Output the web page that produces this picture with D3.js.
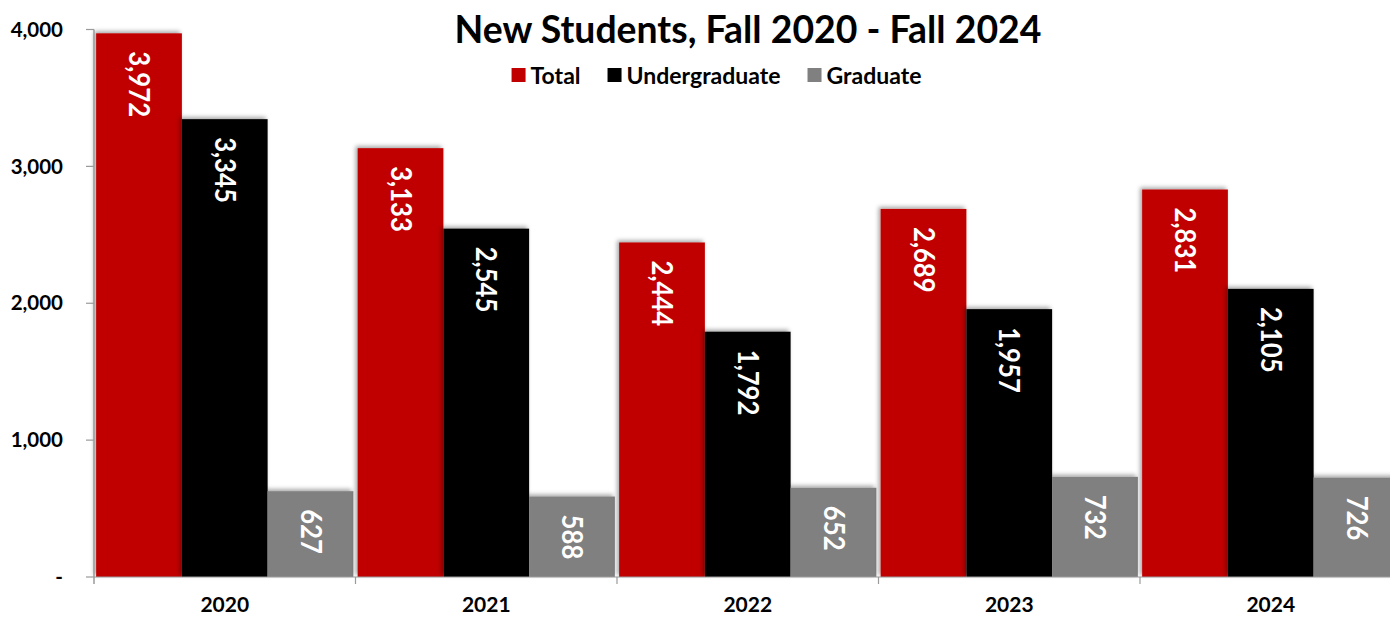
<!DOCTYPE html>
<html>
<head>
<meta charset="utf-8">
<script src="https://cdn.jsdelivr.net/npm/d3@7"></script>
<style>
  html, body { margin: 0; padding: 0; background: #fff; overflow: hidden; }
  svg { display: block; font-family: Lato, "Open Sans", sans-serif; }
</style>
</head>
<body>
<svg id="chart" width="1390" height="618"></svg>
<script>
const title = "New Students, Fall 2020 - Fall 2024";
const years = ["2020", "2021", "2022", "2023", "2024"];
const seriesNames = ["Total", "Undergraduate", "Graduate"];
const seriesColors = ["#C00000", "#000000", "#808080"];
const total = [3972, 3133, 2444, 2689, 2831];
const undergraduate = [3345, 2545, 1792, 1957, 2105];
const graduate = [627, 588, 652, 732, 726];
const yTicks = [0, 1000, 2000, 3000, 4000];

const seriesValues = [total, undergraduate, graduate];
const data = years.map((yr, i) => ({
  year: yr,
  values: seriesNames.map((s, j) => ({ series: s, color: seriesColors[j], value: seriesValues[j][i] }))
}));

const svg = d3.select("#chart");
const left = 94, bandW = 261.5;
const x0 = d3.scaleBand().domain(years).range([left, left + bandW * years.length]).paddingInner(0).paddingOuter(0);
const x1 = d3.scaleBand().domain(seriesNames).range([0, x0.bandwidth()]).paddingOuter(0.025).paddingInner(0);
const y = d3.scaleLinear().domain([0, 4000]).range([577, 29.5]);

// shadow filter
const defs = svg.append("defs");
const f = defs.append("filter").attr("id", "shadow").attr("x", "-10%").attr("y", "-10%").attr("width", "120%").attr("height", "120%");
f.append("feDropShadow").attr("dx", -2).attr("dy", -2).attr("stdDeviation", 2.2).attr("flood-color", "#000").attr("flood-opacity", 0.35);

// Title
const t = svg.append("text").attr("x", 748).attr("y", 43).attr("text-anchor", "middle")
  .attr("font-weight", 700).attr("font-size", 34).attr("fill", "#000").text(title);
const tw = t.node().getComputedTextLength();
t.attr("font-size", 34 * 587 / tw);

// Legend
const legend = svg.append("g");
let lx = 0;
seriesNames.forEach((s, i) => {
  const g = legend.append("g").attr("transform", `translate(${lx},0)`);
  g.append("rect").attr("x", 0).attr("y", 68).attr("width", 14).attr("height", 14).attr("fill", seriesColors[i]);
  const tx = g.append("text").attr("x", 19).attr("y", 83.5).attr("font-weight", 700).attr("font-size", 23).attr("fill", "#000").text(s);
  const w = tx.node().getComputedTextLength();
  lx += 19 + w + 27;
});
const legendW = lx - 27;
legend.attr("transform", `translate(${716.5 - legendW / 2},0)`);

// Bars
const groups = svg.append("g").selectAll("g").data(data).join("g")
  .attr("transform", d => `translate(${x0(d.year)},0)`);
groups.selectAll("rect").data(d => d.values).join("rect")
  .attr("x", d => x1(d.series))
  .attr("y", d => y(d.value))
  .attr("width", x1.bandwidth())
  .attr("height", d => y(0) - y(d.value))
  .attr("fill", d => d.color)
  .attr("filter", "url(#shadow)");

// Bar labels (rotated)
groups.selectAll("text.lbl").data(d => d.values).join("text")
  .attr("class", "lbl")
  .attr("transform", d => `translate(${x1(d.series) + x1.bandwidth() / 2},${y(d.value) + 18}) rotate(90) scale(0.92,1)`)
  .attr("dy", "0.35em")
  .attr("font-weight", 700).attr("font-size", 28).attr("fill", "#fff")
  .text(d => d3.format(",")(d.value));

// Y axis
const axisColor = "#9a9a9a";
svg.append("line").attr("x1", left).attr("x2", left).attr("y1", y(4000)).attr("y2", y(0) + 7)
  .attr("stroke", axisColor).attr("stroke-width", 1.5);
svg.append("g").selectAll("line").data(yTicks).join("line")
  .attr("x1", left - 8).attr("x2", left).attr("y1", d => y(d)).attr("y2", d => y(d))
  .attr("stroke", axisColor).attr("stroke-width", 1.2);
svg.append("g").selectAll("text").data(yTicks).join("text")
  .attr("x", 63).attr("y", d => y(d)).attr("dy", "0.35em").attr("text-anchor", "end")
  .attr("font-weight", 700).attr("font-size", 20.5).attr("fill", "#000")
  .text(d => d === 0 ? "-" : d3.format(",")(d));

// X axis
svg.append("line").attr("x1", left).attr("x2", 1390).attr("y1", y(0)).attr("y2", y(0))
  .attr("stroke", axisColor).attr("stroke-width", 1.2);
svg.append("g").selectAll("line").data(years.slice(1)).join("line")
  .attr("x1", d => x0(d)).attr("x2", d => x0(d)).attr("y1", y(0)).attr("y2", y(0) + 7)
  .attr("stroke", axisColor).attr("stroke-width", 1.2);
svg.append("g").selectAll("text").data(years).join("text")
  .attr("x", d => x0(d) + x0.bandwidth() / 2).attr("y", 612)
  .attr("text-anchor", "middle").attr("font-weight", 700).attr("font-size", 21).attr("fill", "#000")
  .text(d => d);
</script>
</body>
</html>
